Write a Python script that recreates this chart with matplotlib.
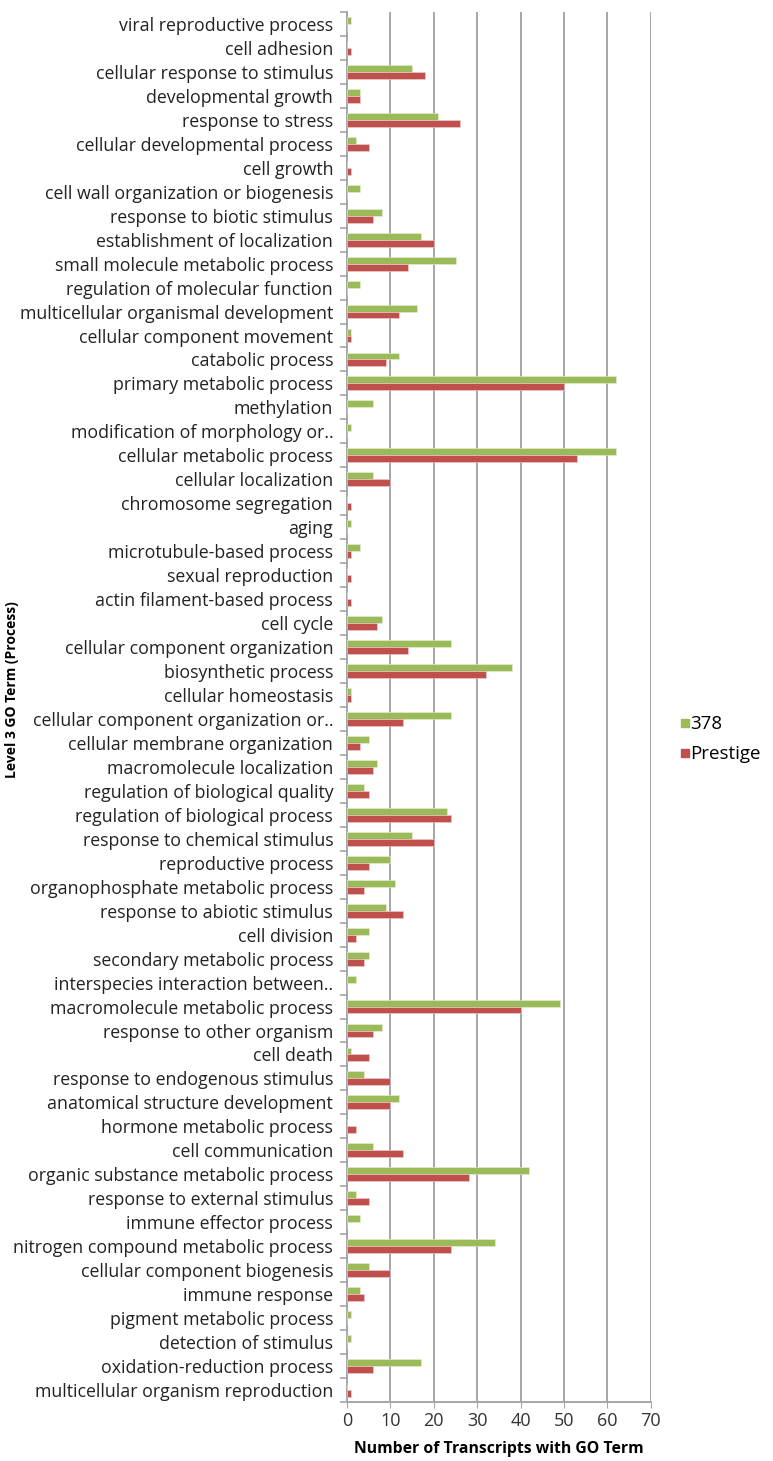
import numpy as np
import matplotlib
matplotlib.use("Agg")
import matplotlib.pyplot as plt
from matplotlib.lines import Line2D

## Data (top to bottom as in the chart)
terms = [
    "viral reproductive process", "cell adhesion", "cellular response to stimulus",
    "developmental growth", "response to stress", "cellular developmental process",
    "cell growth", "cell wall organization or biogenesis", "response to biotic stimulus",
    "establishment of localization", "small molecule metabolic process",
    "regulation of molecular function", "multicellular organismal development",
    "cellular component movement", "catabolic process", "primary metabolic process",
    "methylation", "modification of morphology or..", "cellular metabolic process",
    "cellular localization", "chromosome segregation", "aging",
    "microtubule-based process", "sexual reproduction", "actin filament-based process",
    "cell cycle", "cellular component organization", "biosynthetic process",
    "cellular homeostasis", "cellular component organization or..",
    "cellular membrane organization", "macromolecule localization",
    "regulation of biological quality", "regulation of biological process",
    "response to chemical stimulus", "reproductive process",
    "organophosphate metabolic process", "response to abiotic stimulus", "cell division",
    "secondary metabolic process", "interspecies interaction between..",
    "macromolecule metabolic process", "response to other organism", "cell death",
    "response to endogenous stimulus", "anatomical structure development",
    "hormone metabolic process", "cell communication",
    "organic substance metabolic process", "response to external stimulus",
    "immune effector process", "nitrogen compound metabolic process",
    "cellular component biogenesis", "immune response", "pigment metabolic process",
    "detection of stimulus", "oxidation-reduction process",
    "multicellular organism reproduction",
]
vals_378 = [1, 0, 15, 3, 21, 2, 0, 3, 8, 17, 25, 3, 16,
            1, 12, 62, 6, 1, 62, 6, 0, 1, 3, 0, 0, 8, 24,
            38, 1, 24, 5, 7, 4, 23, 15, 10, 11, 9, 5, 5,
            2, 49, 8, 1, 4, 12, 0, 6, 42, 2, 3, 34, 5,
            3, 1, 1, 17, 0]
vals_prestige = [0, 1, 18, 3, 26, 5, 1, 0, 6, 20, 14, 0, 12,
                 1, 9, 50, 0, 0, 53, 10, 1, 0, 1, 1, 1, 7, 14,
                 32, 1, 13, 3, 6, 5, 24, 20, 5, 4, 13, 2, 4,
                 0, 40, 6, 5, 10, 10, 2, 13, 28, 5, 0, 24, 10,
                 4, 0, 0, 6, 1]

green = "#9BBB59"
red = "#C0504D"
grid_col = "#A6A6A6"

plt.rcParams['font.family'] = ['Open Sans', 'DejaVu Sans']

fig = plt.figure(figsize=(7.73, 14.61), dpi=100)
ax = fig.add_axes([0.449, 0.0404, 0.393, 0.9514])

y = np.arange(len(terms))
h = 0.29
ax.barh(y - h / 2, vals_378, height=h, color=green, edgecolor="#E6EED8", linewidth=0.4, label="378", zorder=3)
ax.barh(y + h / 2, vals_prestige, height=h, color=red, edgecolor="#F0D0CF", linewidth=0.4, label="Prestige", zorder=3)

ax.set_xlim(0, 70)
ax.set_ylim(len(terms) - 0.5, -0.5)
ax.set_xticks(range(0, 71, 10))
ax.set_xticklabels([str(v) for v in range(0, 71, 10)], fontsize=13, color="#333333")
ax.xaxis.grid(True, color=grid_col, linewidth=1.4, zorder=0)
ax.tick_params(axis="x", length=4, color=grid_col, pad=3)

ax.set_yticks(y)
ax.set_yticklabels(terms, fontsize=12.8, color="#222222")
ax.tick_params(axis="y", which="major", length=0, pad=10)
ax.set_yticks(np.arange(-0.5, len(terms), 1), minor=True)
ax.tick_params(axis="y", which="minor", length=5, color=grid_col, width=1.2)

for s in ["top", "right"]:
    ax.spines[s].set_visible(False)
ax.spines["left"].set_color(grid_col)
ax.spines["left"].set_linewidth(1.4)
ax.spines["bottom"].set_color(grid_col)
ax.spines["bottom"].set_linewidth(1.4)

ax.set_xlabel("Number of Transcripts with GO Term", fontsize=11.3, fontweight="bold", labelpad=8)
fig.text(0.016, 0.528, "Level 3 GO Term (Process)", rotation=90, fontsize=10,
         fontweight="bold", va="center", ha="center")

handles = [Line2D([], [], marker="s", linestyle="none", color=green, markersize=6),
           Line2D([], [], marker="s", linestyle="none", color=red, markersize=6)]
fig.legend(handles, ["378", "Prestige"], loc="center left", bbox_to_anchor=(0.857, 0.494),
           frameon=False, fontsize=13.5, handletextpad=0.0, labelspacing=0.65,
           handlelength=0.6)

fig.savefig("out.png", dpi=100)
